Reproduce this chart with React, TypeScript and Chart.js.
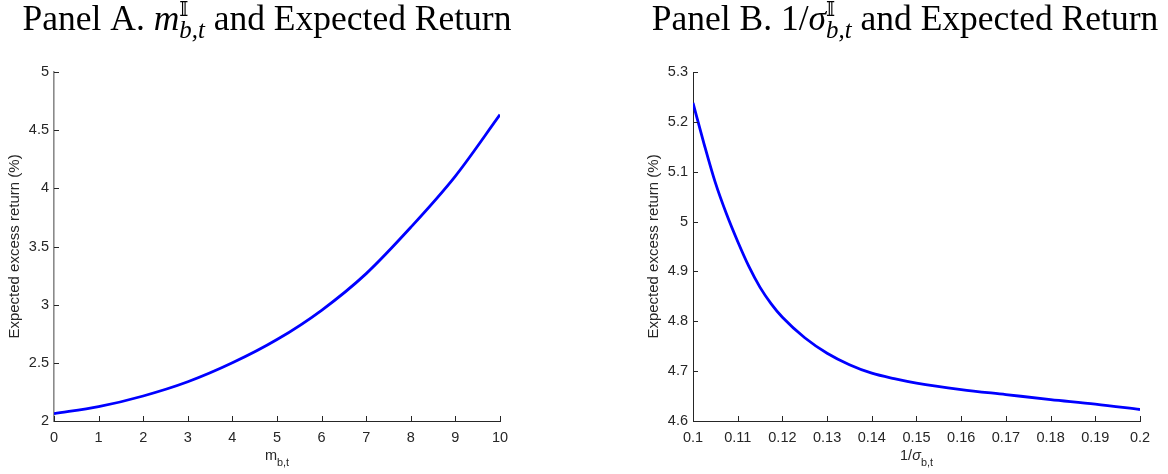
import React, { useEffect, useRef } from "react";
import { Chart, registerables } from "chart.js";

Chart.register(...registerables);

// ---------- data ----------
const mValues = [0, 1, 2, 3, 4, 5, 6, 7, 8, 9, 10];
const returnsA = [2.063, 2.123, 2.215, 2.337, 2.5, 2.7, 2.952, 3.267, 3.665, 4.105, 4.633];

const invSigmaValues = [
  0.1, 0.1025, 0.105, 0.1075, 0.11, 0.1125, 0.115, 0.1175, 0.12, 0.125, 0.13, 0.135, 0.14, 0.145,
  0.15, 0.16, 0.17, 0.18, 0.19, 0.2,
];
const returnsB = [
  5.238, 5.155, 5.078, 5.015, 4.96, 4.91, 4.868, 4.835, 4.808, 4.767, 4.736, 4.713, 4.696, 4.685,
  4.676, 4.663, 4.653, 4.643, 4.634, 4.623,
];

const xTicksA = [0, 1, 2, 3, 4, 5, 6, 7, 8, 9, 10];
const yTicksA = [2, 2.5, 3, 3.5, 4, 4.5, 5];
const xTicksB = [0.1, 0.11, 0.12, 0.13, 0.14, 0.15, 0.16, 0.17, 0.18, 0.19, 0.2];
const yTicksB = [4.6, 4.7, 4.8, 4.9, 5, 5.1, 5.2, 5.3];

const yAxisLabel = "Expected excess return (%)";

type Piece = { t?: string; italic?: boolean; sup?: string; sub?: string };

const titleA: Piece[] = [
  { t: "Panel A. " },
  { t: "m", italic: true },
  { sup: "𝕀", sub: "b,t" },
  { t: " and Expected Return" },
];
const titleB: Piece[] = [
  { t: "Panel B. 1/" },
  { t: "σ", italic: true },
  { sup: "𝕀", sub: "b,t" },
  { t: " and Expected Return" },
];
const xLabelA: Piece[] = [{ t: "m" }, { sub: "b,t" }];
const xLabelB: Piece[] = [{ t: "1/" }, { t: "σ", italic: true }, { sub: "b,t" }];

// ---------- styling ----------
const AXIS_COLOR = "#262626";
const SANS = '"Liberation Sans", Arial, sans-serif';
const SERIF = '"Liberation Serif", "DejaVu Serif", "DejaVu Sans", serif';
const TICK_SIZE = 14.5;

function drawRich(
  ctx: CanvasRenderingContext2D,
  pieces: Piece[],
  cx: number,
  baseline: number,
  size: number,
  family: string,
  subItalic: boolean,
  supScale: number,
  subScale: number,
  supRise: number,
  subDrop: number,
  color: string
) {
  const font = (s: number, it?: boolean) => `${it ? "italic " : ""}${s}px ${family}`;
  const widths = pieces.map((p) => {
    if (p.t !== undefined) {
      ctx.font = font(size, p.italic);
      return ctx.measureText(p.t).width;
    }
    let w = 0;
    if (p.sup) {
      ctx.font = font(size * supScale, false);
      w = Math.max(w, ctx.measureText(p.sup).width);
    }
    if (p.sub) {
      ctx.font = font(size * subScale, subItalic);
      w = Math.max(w, ctx.measureText(p.sub).width);
    }
    return w;
  });
  const total = widths.reduce((a, b) => a + b, 0);
  let x = cx - total / 2;
  ctx.save();
  ctx.fillStyle = color;
  ctx.textAlign = "left";
  ctx.textBaseline = "alphabetic";
  pieces.forEach((p, i) => {
    if (p.t !== undefined) {
      ctx.font = font(size, p.italic);
      ctx.fillText(p.t, x, baseline);
    } else {
      if (p.sup) {
        ctx.font = font(size * supScale, false);
        ctx.fillText(p.sup, x, baseline - supRise);
      }
      if (p.sub) {
        ctx.font = font(size * subScale, subItalic);
        ctx.fillText(p.sub, x, baseline + subDrop);
      }
    }
    x += widths[i];
  });
  ctx.restore();
}

function makeChart(
  canvas: HTMLCanvasElement,
  xs: number[],
  ys: number[],
  xTicks: number[],
  yTicks: number[],
  title: Piece[],
  xLabel: Piece[],
  padLeft: number,
  padRight: number,
  titleCx: number,
  yAxisColor: string,
  yAxisWidth: number
) {
  const inward = {
    id: "inwardTicks",
    afterDraw(chart: any) {
      const ctx = chart.ctx as CanvasRenderingContext2D;
      const xs = chart.scales.x;
      const ys = chart.scales.y;
      const area = chart.chartArea;
      ctx.save();
      ctx.strokeStyle = AXIS_COLOR;
      ctx.lineWidth = 1;
      ctx.beginPath();
      xTicks.forEach((v) => {
        const px = Math.round(xs.getPixelForValue(v)) + 0.5;
        ctx.moveTo(px, area.bottom);
        ctx.lineTo(px, area.bottom - 5);
      });
      yTicks.forEach((v) => {
        const py = Math.round(ys.getPixelForValue(v)) + 0.5;
        ctx.moveTo(area.left, py);
        ctx.lineTo(area.left + 5, py);
      });
      ctx.stroke();
      ctx.restore();

      drawRich(ctx, title, titleCx, 30, 35.5, SERIF, true, 0.55, 0.7, 14, 8, "#000");
      const mid = (area.left + area.right) / 2;
      drawRich(ctx, xLabel, mid, 460, TICK_SIZE, SANS, false, 0.75, 0.75, 5, 6, AXIS_COLOR);
    },
  };

  return new Chart(canvas, {
    type: "line",
    data: {
      datasets: [
        {
          data: xs.map((x, i) => ({ x, y: ys[i] })),
          borderColor: "#0000ff",
          borderWidth: 2.8,
          pointRadius: 0,
          fill: false,
          cubicInterpolationMode: "monotone",
        },
      ],
    },
    options: {
      responsive: false,
      maintainAspectRatio: false,
      animation: false,
      events: [],
      layout: { padding: { left: padLeft, right: padRight, top: 72, bottom: 0 } },
      plugins: {
        legend: { display: false },
        title: { display: false },
        tooltip: { enabled: false },
      },
      scales: {
        x: {
          type: "linear",
          min: xTicks[0],
          max: xTicks[xTicks.length - 1],
          afterBuildTicks: (s: any) => {
            s.ticks = xTicks.map((v) => ({ value: v }));
          },
          afterFit: (s: any) => {
            s.height = 53;
          },
          grid: { display: true, drawOnChartArea: false, drawTicks: false, color: "rgba(0,0,0,0)" },
          border: { display: true, color: AXIS_COLOR, width: 1 },
          ticks: {
            autoSkip: false,
            maxRotation: 0,
            padding: 8,
            color: AXIS_COLOR,
            font: { family: SANS, size: TICK_SIZE },
            callback: (v: any) => String(+Number(v).toFixed(4)),
          },
        },
        y: {
          type: "linear",
          min: yTicks[0],
          max: yTicks[yTicks.length - 1],
          afterBuildTicks: (s: any) => {
            s.ticks = yTicks.map((v) => ({ value: v }));
          },
          afterFit: (s: any) => {
            s.width = 54;
          },
          grid: { display: true, drawOnChartArea: false, drawTicks: false, color: "rgba(0,0,0,0)" },
          border: { display: true, color: yAxisColor, width: yAxisWidth },
          ticks: {
            autoSkip: false,
            padding: 5,
            color: AXIS_COLOR,
            font: { family: SANS, size: TICK_SIZE },
            callback: (v: any) => String(+Number(v).toFixed(4)),
          },
          title: {
            display: true,
            text: yAxisLabel,
            color: AXIS_COLOR,
            font: { family: SANS, size: 15 },
            padding: { top: 6, bottom: 0 },
          },
        },
      },
    },
    plugins: [inward],
  } as any);
}

export default function App() {
  const refA = useRef<HTMLCanvasElement | null>(null);
  const refB = useRef<HTMLCanvasElement | null>(null);

  useEffect(() => {
    const a = makeChart(refA.current!, mValues, returnsA, xTicksA, yTicksA, titleA, xLabelA, 0, 84, 267, "#8a8a8a", 1.6);
    const b = makeChart(refB.current!, invSigmaValues, returnsB, xTicksB, yTicksB, titleB, xLabelB, 55, 28, 321, AXIS_COLOR, 1);
    return () => {
      a.destroy();
      b.destroy();
    };
  }, []);

  return (
    <div
      style={{
        position: "absolute",
        left: 0,
        top: 0,
        width: 1168,
        height: 474,
        display: "flex",
        background: "#fff",
      }}
    >
      <canvas ref={refA} width={584} height={474} style={{ display: "block" }} />
      <canvas ref={refB} width={584} height={474} style={{ display: "block" }} />
    </div>
  );
}
